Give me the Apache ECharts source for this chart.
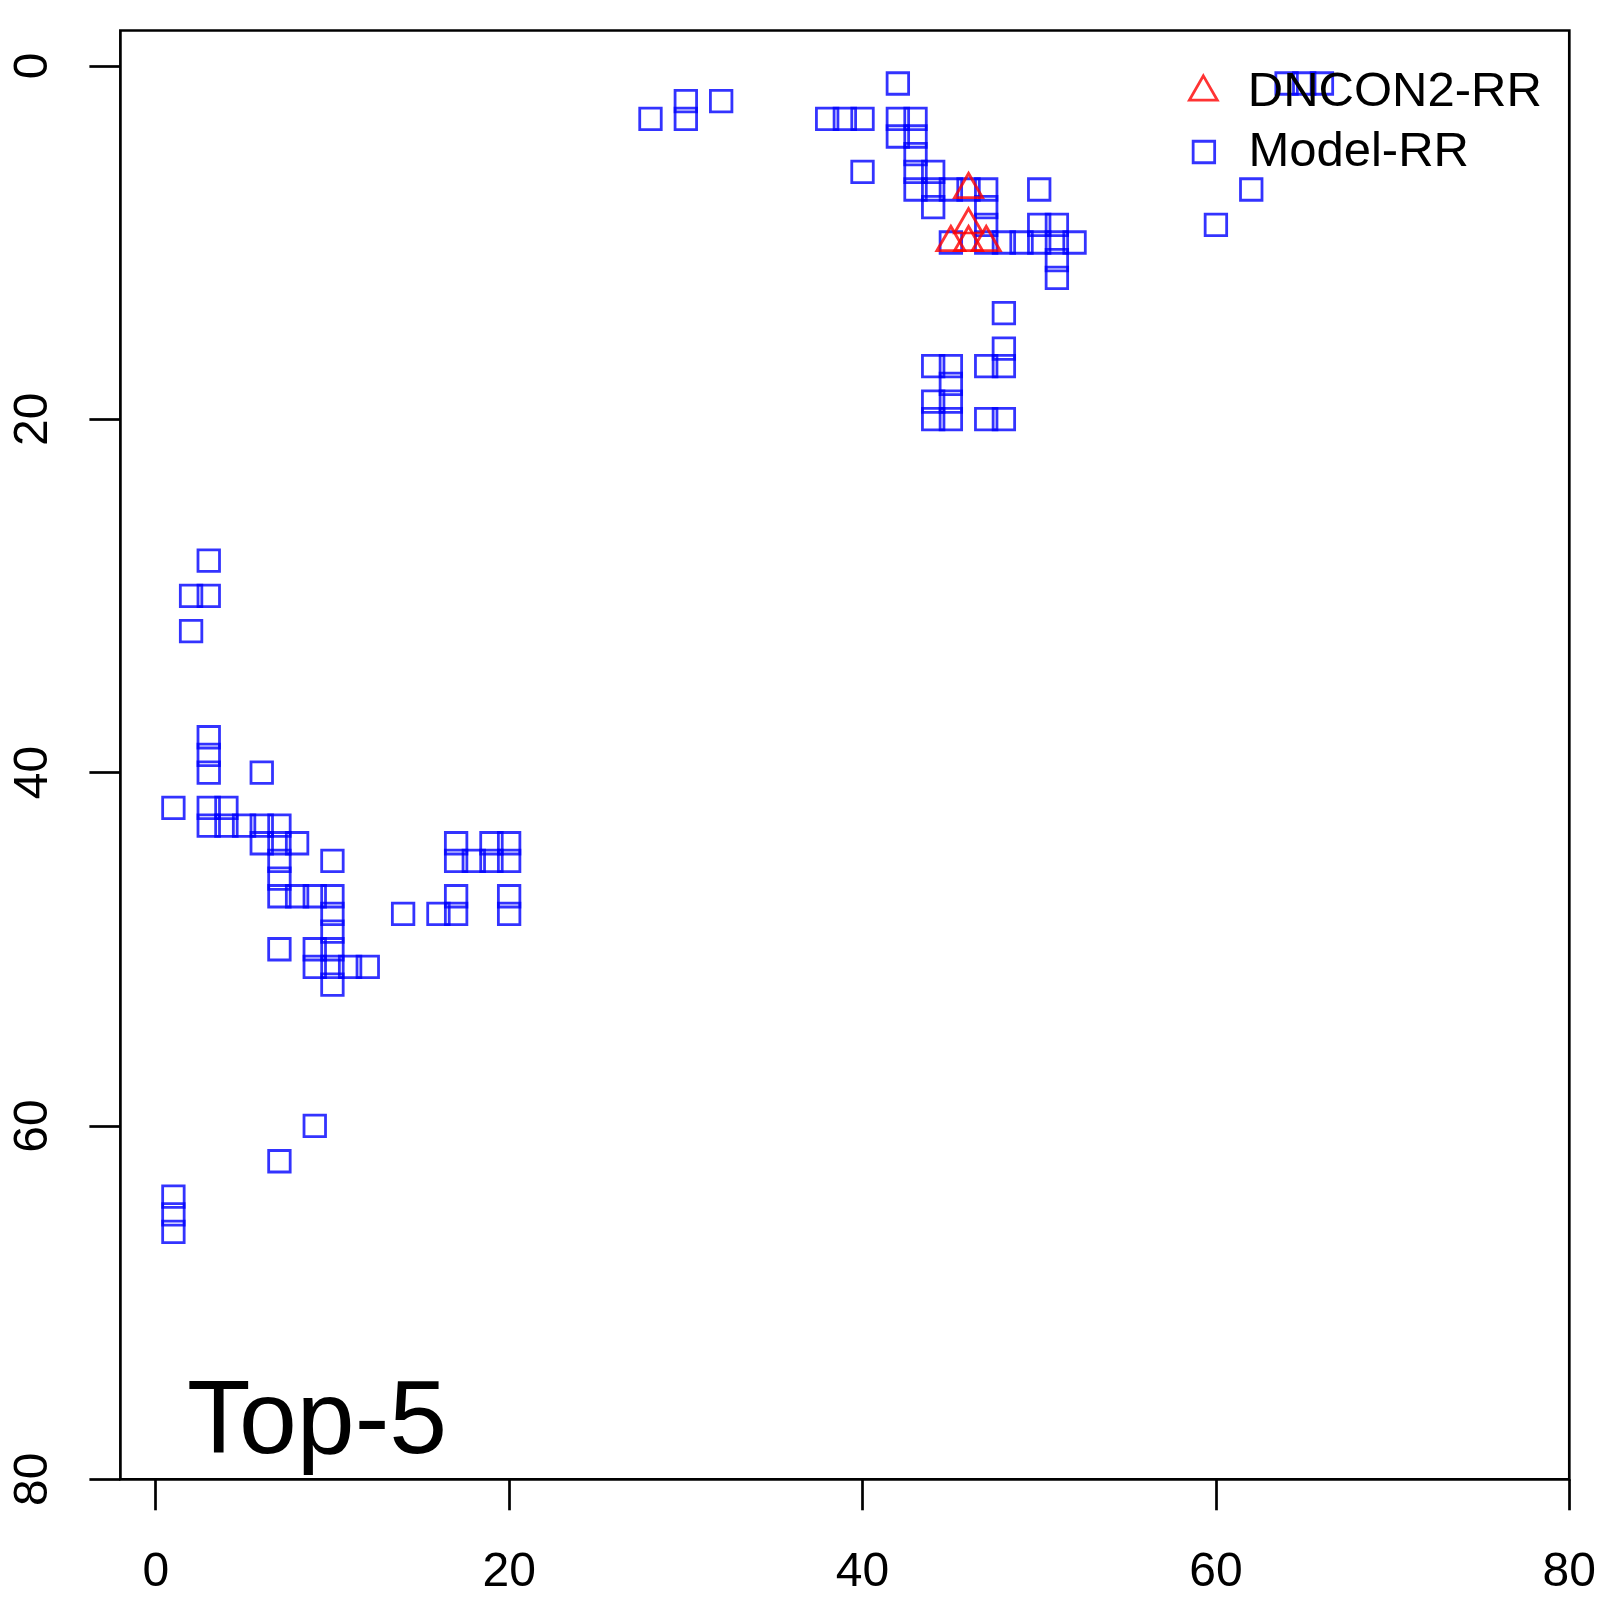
<!DOCTYPE html>
<html>
<head>
<meta charset="utf-8">
<script src="https://cdn.jsdelivr.net/npm/echarts@6/dist/echarts.min.js"></script>
<style>
html,body{margin:0;padding:0;background:#fff;}
#chart{width:1600px;height:1600px;}
</style>
</head>
<body>
<div id="chart"></div>
<script>
// ---- data ----
const xTicks = [0, 20, 40, 60, 80];
const yTicks = [0, 20, 40, 60, 80];
const seriesNames = ['DNCON2-RR', 'Model-RR'];
const panelLabel = 'Top-5';

const dnconRR = [[46,7],[46,9],[45,10],[46,10],[47,10]];

const modelTop = [
  [28,3],[30,2],[30,3],[32,2],
  [38,3],[39,3],[40,3],[40,6],
  [42,1],[42,3],[42,4],
  [43,3],[43,4],[43,5],[43,6],[43,7],
  [44,6],[44,7],[44,8],
  [45,7],[46,7],[47,7],[47,8],[47,9],
  [45,10],[47,10],[48,10],[49,10],[50,10],[51,10],[52,10],
  [50,7],[50,9],[51,9],[51,11],[51,12],
  [48,14],[48,16],[48,17],[47,17],[44,17],[45,17],[45,18],
  [44,19],[45,19],[44,20],[45,20],[47,20],[48,20],
  [60,9],[62,7],[64,1],[65,1],[66,1]
];
const modelLeft = [
  [3,28],[2,30],[3,30],[2,32],
  [3,38],[3,39],[3,40],[6,40],
  [1,42],[3,42],[4,42],
  [3,43],[4,43],[5,43],[6,43],[7,43],
  [6,44],[7,44],[8,44],
  [7,45],[10,45],[7,46],
  [7,47],[8,47],[9,47],[10,47],
  [10,48],[14,48],[16,48],[17,48],[20,48],
  [10,49],[7,50],[9,50],[10,50],
  [9,51],[10,51],[11,51],[12,51],[10,52],
  [17,44],[17,45],[18,45],[19,44],[19,45],[20,44],[20,45],[17,47],[20,47],
  [9,60],[7,62],[1,64],[1,65],[1,66]
];
const modelRR = modelTop.concat(modelLeft);

// ---- chart ----
const FONT = 'Liberation Sans';
const BLUE = '#0000FF', RED = '#FF0000';
// triangle icon whose bounding box is centred on the triangle's centroid (like R's pch 2)
const triPath = 'path://M57.735,0L115.47,100L0,100Z M57.735,133.33L57.735,133.33';
const sqPath = 'path://M0,0L100,0L100,100L0,100Z';

const chart = echarts.init(document.getElementById('chart'), null, {renderer: 'canvas'});

const axisCommon = {
  type: 'value',
  min: -2,
  max: 80,
  axisLine: {show: false, onZero: false},
  splitLine: {show: false},
  axisTick: {show: true, length: 31, lineStyle: {color: '#000', width: 2.7}},
  axisLabel: {fontSize: 48, color: '#000', fontFamily: FONT}
};

const option = {
  animation: false,
  backgroundColor: '#fff',
  textStyle: {fontFamily: FONT},
  title: {
    text: panelLabel,
    left: 187,
    top: 1372,
    padding: 0,
    textStyle: {fontSize: 104, fontWeight: 'normal', color: '#000', fontFamily: FONT}
  },
  legend: [
    {
      data: [{name: seriesNames[0], icon: triPath,
              itemStyle: {color: 'rgba(0,0,0,0)', borderColor: RED, borderWidth: 2.8}}],
      left: 1188, top: 67.5, padding: 0, orient: 'vertical',
      itemWidth: 79, itemHeight: 32.2, symbolKeepAspect: true,
      selectedMode: false,
      textStyle: {fontSize: 49, color: '#000', fontFamily: FONT}
    },
    {
      data: [{name: seriesNames[1], icon: sqPath,
              itemStyle: {color: 'rgba(0,0,0,0)', borderColor: BLUE, borderWidth: 2.8}}],
      left: 1191.75, top: 127.5, padding: 0, orient: 'vertical',
      itemWidth: 79, itemHeight: 21.5, symbolKeepAspect: true,
      selectedMode: false,
      textStyle: {fontSize: 49, color: '#000', fontFamily: FONT}
    }
  ],
  grid: {
    left: 120.4, right: 30.7, top: 30.5, bottom: 120.7,
    show: true, borderColor: '#000', borderWidth: 2.7,
    backgroundColor: 'rgba(0,0,0,0)',
    containLabel: false, outerBoundsMode: 'none'
  },
  xAxis: Object.assign({}, axisCommon, {
    position: 'bottom',
    axisTick: Object.assign({}, axisCommon.axisTick, {customValues: xTicks}),
    axisLabel: Object.assign({}, axisCommon.axisLabel, {customValues: xTicks, margin: 69})
  }),
  yAxis: Object.assign({}, axisCommon, {
    inverse: true,
    position: 'left',
    axisTick: Object.assign({}, axisCommon.axisTick, {customValues: yTicks}),
    axisLabel: Object.assign({}, axisCommon.axisLabel, {customValues: yTicks, margin: 63, rotate: 90})
  }),
  series: [
    {
      type: 'scatter',
      name: seriesNames[1],
      data: modelRR,
      symbol: 'rect',
      symbolSize: 21.5,
      itemStyle: {color: 'rgba(0,0,0,0)', borderColor: BLUE, borderWidth: 2.8},
      silent: true,
      z: 2
    },
    {
      type: 'scatter',
      name: seriesNames[0],
      data: dnconRR,
      symbol: 'triangle',
      symbolSize: [28, 24.2],
      symbolOffset: [0, -4],
      itemStyle: {color: 'rgba(0,0,0,0)', borderColor: RED, borderWidth: 2.8},
      silent: true,
      z: 3
    }
  ]
};
chart.setOption(option);
</script>
</body>
</html>
